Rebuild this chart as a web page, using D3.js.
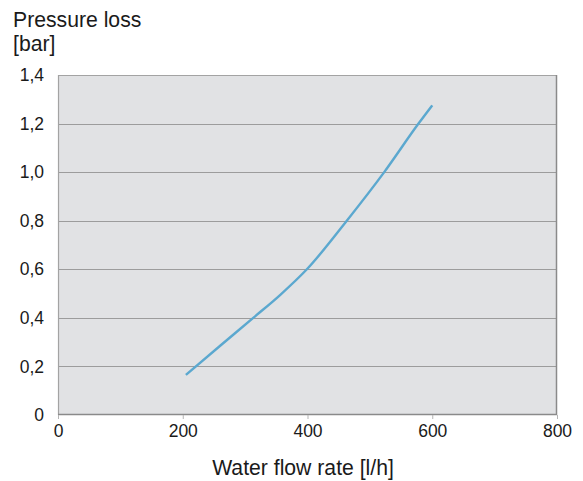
<!DOCTYPE html>
<html>
<head>
<meta charset="utf-8">
<script src="https://cdn.jsdelivr.net/npm/d3@7"></script>
<style>
  html, body { margin: 0; padding: 0; background: #fff; }
  svg { display: block; font-family: "Liberation Sans", Arial, sans-serif; }
</style>
</head>
<body>
<svg id="chart" width="583" height="481"></svg>
<script>
// Data
const flowRates = [205, 260, 313, 356, 399, 463, 523, 578, 600];
const pressureLoss = [0.165, 0.285, 0.4, 0.494, 0.6, 0.8, 1.0, 1.2, 1.275];
const xTicks = [0, 200, 400, 600, 800];
const yTicks = [0, 0.2, 0.4, 0.6, 0.8, 1.0, 1.2, 1.4];
const yTitleLines = ["Pressure loss", "[bar]"];
const xTitle = "Water flow rate [l/h]";

const svg = d3.select("#chart");
const m = { left: 58, right: 557, top: 75, bottom: 415 };

const x = d3.scaleLinear().domain([0, 800]).range([m.left, m.right]);
const y = d3.scaleLinear().domain([0, 1.4]).range([m.bottom, m.top]);
const fmt = v => v === 0 ? "0" : d3.format(".1f")(v).replace(".", ",");
const FONT = "'Liberation Sans', Arial, sans-serif";

// plot background
svg.append("rect")
  .attr("x", m.left).attr("y", m.top)
  .attr("width", m.right - m.left).attr("height", m.bottom - m.top)
  .attr("fill", "#e1e2e4");

// gridlines
svg.append("g").selectAll("line")
  .data(yTicks.filter(d => d > 0 && d < 1.4))
  .join("line")
  .attr("x1", m.left).attr("x2", m.right)
  .attr("y1", d => Math.round(y(d)) + 0.5).attr("y2", d => Math.round(y(d)) + 0.5)
  .attr("stroke", "#9c9c9c").attr("stroke-width", 1.2);

// border
svg.append("line").attr("x1", m.left + 0.5).attr("x2", m.left + 0.5).attr("y1", m.top).attr("y2", m.bottom)
  .attr("stroke", "#a3a3a3").attr("stroke-width", 1.2);
svg.append("line").attr("x1", m.left).attr("x2", m.right).attr("y1", m.top + 0.5).attr("y2", m.top + 0.5)
  .attr("stroke", "#a3a3a3").attr("stroke-width", 1.2);
svg.append("line").attr("x1", m.right - 0.5).attr("x2", m.right - 0.5).attr("y1", m.top).attr("y2", m.bottom)
  .attr("stroke", "#8a8a8a").attr("stroke-width", 1.5);
svg.append("line").attr("x1", m.left).attr("x2", m.right).attr("y1", m.bottom - 0.5).attr("y2", m.bottom - 0.5)
  .attr("stroke", "#8a8a8a").attr("stroke-width", 1.5);

// x axis ticks + labels
const xAxis = d3.axisBottom(x).tickValues(xTicks).tickSize(4).tickSizeOuter(0).tickFormat(d3.format("d"));
const gx = svg.append("g").attr("transform", `translate(0,${m.bottom})`).call(xAxis);
gx.select(".domain").remove();
gx.selectAll(".tick line").attr("stroke", "#b5b5b5");
gx.selectAll(".tick text").attr("font-size", 17.5).attr("fill", "#1a1a1a").attr("y", 10).attr("dy", "0.71em")
  .attr("font-family", FONT);

// y axis labels
const yAxis = d3.axisLeft(y).tickValues(yTicks).tickSize(0).tickPadding(14).tickFormat(fmt);
const gy = svg.append("g").attr("transform", `translate(${m.left},0)`).call(yAxis);
gy.select(".domain").remove();
gy.selectAll(".tick text").attr("font-size", 17.5).attr("fill", "#1a1a1a")
  .attr("font-family", FONT);

// line
const line = d3.line().x((d, i) => x(flowRates[i])).y(d => y(d)).curve(d3.curveMonotoneX);
svg.append("path")
  .datum(pressureLoss)
  .attr("d", line)
  .attr("fill", "none")
  .attr("stroke", "#5ba8cf")
  .attr("stroke-width", 2.4)
  .attr("stroke-linejoin", "round");

// titles
svg.append("g").selectAll("text").data(yTitleLines).join("text")
  .attr("x", 13).attr("y", (d, i) => 27 + i * 23.5)
  .attr("font-size", 21.2).attr("fill", "#1a1a1a").attr("font-family", FONT)
  .text(d => d);

svg.append("text")
  .attr("x", 303).attr("y", 475)
  .attr("text-anchor", "middle")
  .attr("font-size", 21.2).attr("fill", "#1a1a1a").attr("font-family", FONT)
  .text(xTitle);
</script>
</body>
</html>
